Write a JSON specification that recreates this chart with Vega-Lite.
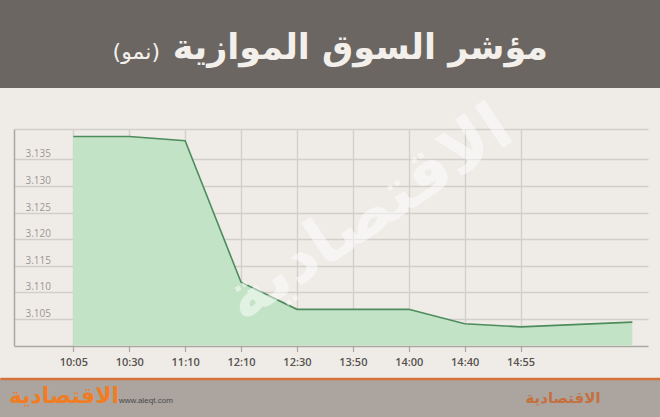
{
  "$schema": "https://vega.github.io/schema/vega-lite/v6.json",
  "padding": 0,
  "background": "#efece8",
  "bounds": "flush",
  "spacing": 41,
  "config": {"view": {"stroke": null}, "font": "DejaVu Sans"},
  "vconcat": [
    {
      "width": 660,
      "height": 88,
      "view": {"fill": "#6b6662", "stroke": null},
      "data": {"values": [{"title": "مؤشر السوق الموازية", "sub": "(نمو)"}]},
      "layer": [
        {
          "mark": {"type": "text", "align": "right", "baseline": "alphabetic", "dx": 218, "dy": 15, "fontSize": 35, "fontWeight": "bold", "color": "#f3f0ec", "font": "DejaVu Sans"},
          "encoding": {"text": {"field": "title"}}
        },
        {
          "mark": {"type": "text", "align": "right", "baseline": "alphabetic", "dx": -170, "dy": 15, "fontSize": 22, "color": "#f3f0ec", "font": "DejaVu Sans"},
          "encoding": {"text": {"field": "sub"}}
        }
      ]
    },
    {
      "bounds": "flush",
      "spacing": 32.5,
      "vconcat": [
        {
          "width": 648,
          "height": 216.5,
          "layer": [
            {
              "data": {"values": [
                {"time": "10:05", "value": 3.1393},
                {"time": "10:30", "value": 3.1393},
                {"time": "11:10", "value": 3.1385},
                {"time": "12:10", "value": 3.1119},
                {"time": "12:30", "value": 3.1068},
                {"time": "13:50", "value": 3.1068},
                {"time": "14:00", "value": 3.1068},
                {"time": "14:40", "value": 3.1041},
                {"time": "14:55", "value": 3.1035},
                {"time": "15:00", "value": 3.1044}
              ]},
              "encoding": {
                "x": {
                  "field": "time", "type": "ordinal", "sort": null,
                  "scale": {"type": "point", "domain": ["10:05","10:30","11:10","12:10","12:30","13:50","14:00","14:40","14:55"," ","15:00"], "range": [14, 648], "padding": 0.671, "align": 0.791},
                  "axis": {
                    "orient": "bottom", "title": null, "domain": false, "labelAngle": 0,
                    "labelExpr": "datum.value == ' ' || datum.value == '15:00' ? '' : datum.value",
                    "labelFont": "Open Sans", "labelFontSize": 11, "labelFontWeight": 600, "labelColor": "#57524e",
                    "labelPadding": 5,
                    "tickSize": 6, "tickWidth": 1.2,
                    "tickColor": {"condition": {"test": "datum.value == ' ' || datum.value == '15:00'", "value": "transparent"}, "value": "#a9a5a0"},
                    "grid": true, "gridWidth": 1.3,
                    "gridColor": {"condition": {"test": "datum.value == ' ' || datum.value == '15:00'", "value": "transparent"}, "value": "#d2cec9"}
                  }
                },
                "y": {
                  "field": "value", "type": "quantitative",
                  "scale": {"domain": [3.1, 3.1407], "nice": false, "zero": false},
                  "axis": {
                    "values": [3.1, 3.105, 3.11, 3.115, 3.12, 3.125, 3.13, 3.135, 3.1407],
                    "labelExpr": "datum.value > 3.1402 || datum.value < 3.1001 ? '' : format(datum.value, '.3f')",
                    "orient": "left", "offset": -14, "title": null,
                    "ticks": false, "tickSize": 0,
                    "labelAlign": "left", "labelPadding": -11, "labelBaseline": "alphabetic", "labelOffset": -2.5,
                    "labelFont": "Open Sans", "labelFontSize": 10, "labelColor": "#9b9691",
                    "domainColor": "#aaa6a1", "domainWidth": 1.5,
                    "grid": true, "gridWidth": 1.3,
                    "gridColor": {"condition": {"test": "datum.value < 3.1001", "value": "#aaa6a1"}, "value": "#d2cec9"}
                  }
                }
              },
              "layer": [
                {"mark": {"type": "area", "color": "#c3e3c6", "opacity": 1}, "encoding": {"y2": {"datum": 3.1}}},
                {"mark": {"type": "line", "color": "#4d8c5c", "strokeWidth": 1.6}}
              ]
            },
            {
              "data": {"values": [{"t": "الاقتصادية"}]},
              "mark": {"type": "text", "angle": 326, "fontSize": 66, "fontWeight": "bold", "color": "#ffffff", "opacity": 0.5, "font": "DejaVu Sans", "dx": 50, "dy": 6},
              "encoding": {"text": {"field": "t"}}
            }
          ]
        },
        {
          "width": 660,
          "height": 39,
          "view": {"fill": "#aba49f", "stroke": null},
          "data": {"values": [{"site": "www.aleqt.com", "logo": "الاقتصادية"}]},
          "encoding": {
            "x": {"datum": 0, "type": "quantitative", "scale": {"domain": [0, 1]},
              "axis": {"orient": "top", "domain": true, "domainColor": "#d6733d", "domainWidth": 2.5, "labels": false, "ticks": false, "grid": false, "title": null}}
          },
          "layer": [
            {
              "mark": {"type": "text", "align": "left", "dx": 119, "dy": 3, "fontSize": 8, "color": "#4a4a4a", "font": "Liberation Sans"},
              "encoding": {"text": {"field": "site"}}
            },
            {
              "mark": {"type": "text", "align": "center", "dx": 64, "dy": -2, "fontSize": 22, "fontWeight": "bold", "color": "#f07d24", "font": "DejaVu Sans"},
              "encoding": {"text": {"field": "logo"}}
            },
            {
              "mark": {"type": "text", "align": "center", "dx": 563, "dy": 0, "fontSize": 15, "fontWeight": "bold", "color": "#c4703f", "font": "DejaVu Sans"},
              "encoding": {"text": {"field": "logo"}}
            }
          ]
        }
      ]
    }
  ]
}
